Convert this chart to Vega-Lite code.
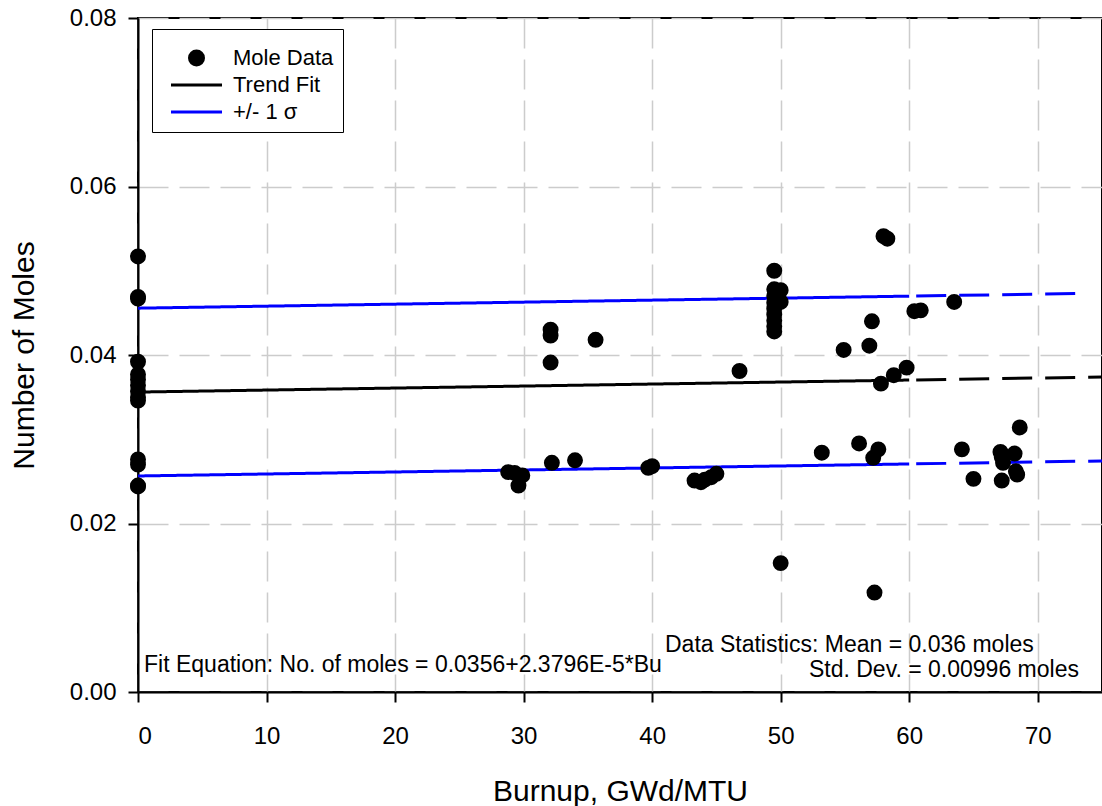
{
  "$schema": "https://vega.github.io/schema/vega-lite/v6.json",
  "width": 964,
  "height": 674,
  "autosize": {"type": "none"},
  "padding": {"left": 138, "top": 18, "right": 0, "bottom": 114},
  "background": "white",
  "config": {
    "font": "Liberation Sans",
    "view": {"stroke": "black", "strokeWidth": 2},
    "axis": {
      "domainColor": "black",
      "domainWidth": 2,
      "tickColor": "black",
      "tickWidth": 2,
      "tickSize": 10,
      "labelColor": "black",
      "labelFont": "Liberation Sans",
      "titleFont": "Liberation Sans",
      "titleColor": "black",
      "titleFontWeight": "normal",
      "grid": true,
      "gridColor": "#cccccc",
      "gridWidth": 1.5,
      "gridDash": [30, 11]
    }
  },
  "datasets": {
    "points": [
      {"bu": 0, "moles": 0.0517}, {"bu": 0, "moles": 0.0469}, {"bu": 0, "moles": 0.0467},
      {"bu": 0, "moles": 0.0392}, {"bu": 0, "moles": 0.0377}, {"bu": 0, "moles": 0.0371},
      {"bu": 0, "moles": 0.0364}, {"bu": 0, "moles": 0.0357}, {"bu": 0, "moles": 0.0350},
      {"bu": 0, "moles": 0.0346}, {"bu": 0, "moles": 0.0276}, {"bu": 0, "moles": 0.0270},
      {"bu": 0, "moles": 0.0245}, {"bu": 0, "moles": 0.0244},
      {"bu": 28.8, "moles": 0.0261}, {"bu": 29.3, "moles": 0.0260}, {"bu": 29.6, "moles": 0.0245},
      {"bu": 29.9, "moles": 0.0257}, {"bu": 32.1, "moles": 0.0430}, {"bu": 32.1, "moles": 0.0423},
      {"bu": 32.1, "moles": 0.0391}, {"bu": 32.2, "moles": 0.0272}, {"bu": 34.0, "moles": 0.0275},
      {"bu": 35.6, "moles": 0.0418}, {"bu": 39.7, "moles": 0.0266}, {"bu": 40.0, "moles": 0.0268},
      {"bu": 43.3, "moles": 0.0251}, {"bu": 43.8, "moles": 0.0249}, {"bu": 44.1, "moles": 0.0252},
      {"bu": 44.6, "moles": 0.0255}, {"bu": 45.0, "moles": 0.0259}, {"bu": 46.8, "moles": 0.0381},
      {"bu": 49.5, "moles": 0.0500}, {"bu": 49.5, "moles": 0.0478}, {"bu": 49.5, "moles": 0.0470},
      {"bu": 49.5, "moles": 0.0462}, {"bu": 49.5, "moles": 0.0455}, {"bu": 49.5, "moles": 0.0448},
      {"bu": 49.5, "moles": 0.0441}, {"bu": 49.5, "moles": 0.0434}, {"bu": 49.5, "moles": 0.0428},
      {"bu": 50.0, "moles": 0.0477}, {"bu": 50.0, "moles": 0.0463}, {"bu": 50.0, "moles": 0.0153},
      {"bu": 53.2, "moles": 0.0284}, {"bu": 54.9, "moles": 0.0406}, {"bu": 56.1, "moles": 0.0295},
      {"bu": 56.9, "moles": 0.0411}, {"bu": 57.1, "moles": 0.0440}, {"bu": 57.2, "moles": 0.0278},
      {"bu": 57.6, "moles": 0.0288}, {"bu": 57.3, "moles": 0.0118}, {"bu": 57.8, "moles": 0.0366},
      {"bu": 58.0, "moles": 0.0541}, {"bu": 58.3, "moles": 0.0538}, {"bu": 58.8, "moles": 0.0376},
      {"bu": 59.8, "moles": 0.0385}, {"bu": 60.4, "moles": 0.0452}, {"bu": 60.9, "moles": 0.0453},
      {"bu": 63.5, "moles": 0.0463}, {"bu": 64.1, "moles": 0.0288}, {"bu": 65.0, "moles": 0.0253},
      {"bu": 67.1, "moles": 0.0285}, {"bu": 67.2, "moles": 0.0279}, {"bu": 67.3, "moles": 0.0272},
      {"bu": 67.2, "moles": 0.0251}, {"bu": 68.2, "moles": 0.0283}, {"bu": 68.3, "moles": 0.0262},
      {"bu": 68.4, "moles": 0.0258}, {"bu": 68.6, "moles": 0.0314}
    ],
    "fits": [
      {"series": "Trend Fit", "segment": "solid", "bu": 0, "moles": 0.0356},
      {"series": "Trend Fit", "segment": "solid", "bu": 60, "moles": 0.037028},
      {"series": "Trend Fit", "segment": "dashed", "bu": 60, "moles": 0.037028},
      {"series": "Trend Fit", "segment": "dashed", "bu": 75, "moles": 0.037385},
      {"series": "+/- 1 σ", "segment": "solid", "bu": 0, "moles": 0.04556},
      {"series": "+/- 1 σ", "segment": "solid", "bu": 60, "moles": 0.046988},
      {"series": "+/- 1 σ", "segment": "dashed", "bu": 60, "moles": 0.046988},
      {"series": "+/- 1 σ", "segment": "dashed", "bu": 73.5, "moles": 0.047309},
      {"series": "lower", "segment": "solid", "bu": 0, "moles": 0.02564},
      {"series": "lower", "segment": "solid", "bu": 60, "moles": 0.027068},
      {"series": "lower", "segment": "dashed", "bu": 60, "moles": 0.027068},
      {"series": "lower", "segment": "dashed", "bu": 75, "moles": 0.027425}
    ],
    "notes": [
      {"bu": 0.47, "moles": 0.0032, "text": "Fit Equation: No. of moles = 0.0356+2.3796E-5*Bu"},
      {"bu": 41.0, "moles": 0.00558, "text": "Data Statistics: Mean = 0.036 moles"},
      {"bu": 52.2, "moles": 0.00261, "text": "Std. Dev. = 0.00996 moles"}
    ]
  },
  "encoding": {
    "x": {
      "field": "bu",
      "type": "quantitative",
      "scale": {"domain": [0, 75], "nice": false, "zero": false},
      "axis": {
        "values": [0, 10, 20, 30, 40, 50, 60, 70],
        "format": "d",
        "labelFontSize": 24,
        "labelPadding": 22,
        "title": "Burnup, GWd/MTU",
        "titleFontSize": 30,
        "titleY": 108,
        "titleBaseline": "alphabetic"
      }
    },
    "y": {
      "field": "moles",
      "type": "quantitative",
      "scale": {"domain": [0, 0.08], "nice": false},
      "axis": {
        "values": [0, 0.02, 0.04, 0.06, 0.08],
        "format": ".2f",
        "labelFontSize": 24,
        "labelPadding": 12,
        "title": "Number of Moles",
        "titleFontSize": 30,
        "titleX": -105,
        "titleBaseline": "alphabetic"
      }
    }
  },
  "layer": [
    {
      "data": {"name": "fits"},
      "mark": {"type": "line", "strokeWidth": 3, "strokeDashOffset": 36},
      "encoding": {
        "color": {
          "field": "series",
          "type": "nominal",
          "scale": {"domain": ["Mole Data", "Trend Fit", "+/- 1 σ", "lower"], "range": ["black", "black", "blue", "blue"]},
          "legend": {
            "values": ["Mole Data", "Trend Fit", "+/- 1 σ"],
            "title": " ",
            "titleFontSize": 6,
            "titlePadding": 3,
            "orient": "none",
            "legendX": 14,
            "legendY": 11,
            "padding": 9,
            "strokeColor": "black",
            "fillColor": "white",
            "labelFont": "Liberation Sans",
            "labelFontSize": 22,
            "labelColor": "black",
            "labelExpr": "datum.label + '\u00a0\u00a0'",
            "symbolSize": 289,
            "symbolOffset": 24.5,
            "labelOffset": 25.5,
            "rowPadding": 5,
            "encode": {
              "symbols": {
                "update": {
                  "shape": {"signal": "datum.value === 'Mole Data' ? 'circle' : 'M-3,0H3'"},
                  "fill": {"signal": "datum.value === 'Mole Data' ? 'black' : 'transparent'"},
                  "stroke": {"signal": "datum.value === '+/- 1 σ' ? 'blue' : 'black'"},
                  "strokeWidth": {"signal": "datum.value === 'Mole Data' ? 0 : 3"},
                  "strokeDash": {"value": [1, 0]},
                  "opacity": {"value": 1}
                }
              }
            }
          }
        },
        "strokeDash": {
          "field": "segment",
          "type": "nominal",
          "scale": {"domain": ["solid", "dashed"], "range": [[1, 0], [30, 13]]},
          "legend": null
        }
      }
    },
    {
      "data": {"name": "points"},
      "mark": {"type": "point", "filled": true, "size": 254, "opacity": 1, "color": "black"},
      "encoding": {}
    },
    {
      "data": {"name": "notes"},
      "mark": {"type": "text", "align": "left", "baseline": "middle", "font": "Liberation Sans", "fontSize": 23, "color": "black"},
      "encoding": {"text": {"field": "text"}}
    }
  ]
}
